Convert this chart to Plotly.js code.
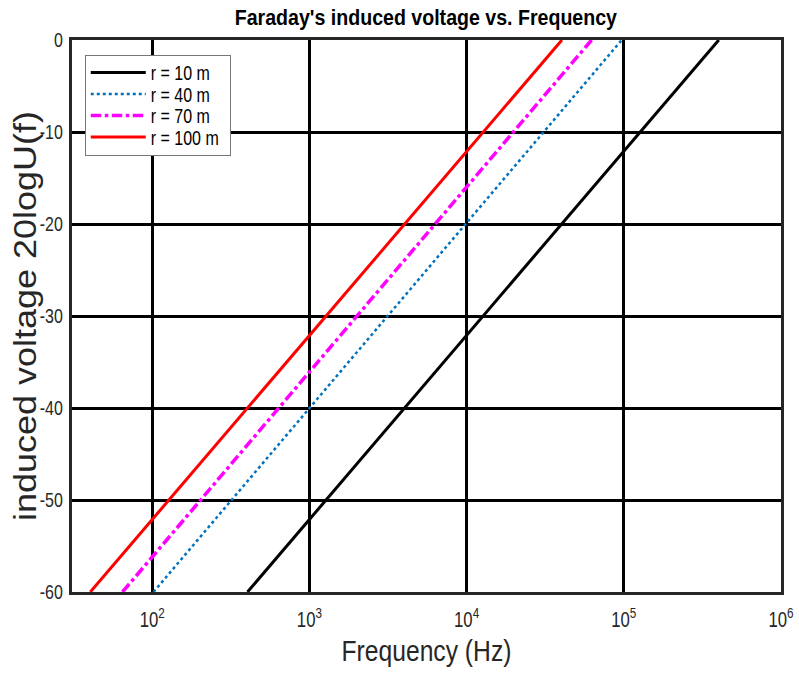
<!DOCTYPE html>
<html>
<head>
<meta charset="utf-8">
<script src="https://cdn.plot.ly/plotly-3.0.1.min.js"></script>
<style>
  html, body { margin: 0; padding: 0; background: #fff; }
  #chart { width: 799px; height: 677px; }
</style>
</head>
<body>
<div id="chart"></div>
<script>
// Line end points (frequency in Hz, level in dB) for each distance r
const freqR10 = [404, 402000];
const freqR40 = [102, 97000];
const freqR70 = [64.7, 62400];
const freqR100 = [40.4, 40400];
const voltR10 = [-60, 0];
const voltR40 = [-60, 0];
const voltR70 = [-60, 0];
const voltR100 = [-60, 0];
const seriesNames = ['r = 10 m', 'r = 40 m', 'r = 70 m', 'r = 100 m'];

const xTickVals = [100, 1000, 10000, 100000, 1000000];
const xTickText = ['10<sup>2</sup>', '10<sup>3</sup>', '10<sup>4</sup>', '10<sup>5</sup>', '10<sup>6</sup>'];
const yTickVals = [0, -10, -20, -30, -40, -50, -60];
const yTickText = ['0', '-10', '-20', '-30', '-40', '-50', '-60'];

const sans = '"Liberation Sans", Arial, sans-serif';

const traces = [
  { x: freqR10, y: voltR10, name: seriesNames[0], mode: 'lines',
    line: { color: '#000000', width: 3, dash: 'solid' } },
  { x: freqR40, y: voltR40, name: seriesNames[1], mode: 'lines',
    line: { color: '#0072BD', width: 2.5, dash: 'dot' } },
  { x: freqR70, y: voltR70, name: seriesNames[2], mode: 'lines',
    line: { color: '#FF00FF', width: 3.5, dash: 'dashdot' } },
  { x: freqR100, y: voltR100, name: seriesNames[3], mode: 'lines',
    line: { color: '#FF0000', width: 3, dash: 'solid' } }
];

const layout = {
  width: 799, height: 677,
  margin: { l: 72, r: 18, t: 40, b: 85 },
  paper_bgcolor: '#ffffff', plot_bgcolor: '#ffffff',
  showlegend: true,
  title: {
    text: "<b>Faraday's induced voltage vs. Frequency</b>",
    font: { family: sans, size: 22, color: '#000' },
    x: 0.533, xanchor: 'center', y: 0.975, yanchor: 'middle'
  },
  xaxis: {
    type: 'log',
    range: [1.49, 6],
    tickvals: xTickVals, ticktext: xTickText,
    showgrid: true, gridcolor: '#000', gridwidth: 3,
    showline: true, linecolor: '#262626', linewidth: 3, mirror: true,
    ticks: '', zeroline: false, ticklabelstandoff: 6,
    tickfont: { family: sans, size: 22, color: '#262626' },
    title: { text: 'Frequency (Hz)', font: { family: sans, size: 29, color: '#262626' }, standoff: 10 }
  },
  yaxis: {
    range: [-60, 0],
    tickvals: yTickVals, ticktext: yTickText,
    showgrid: true, gridcolor: '#000', gridwidth: 3,
    showline: true, linecolor: '#262626', linewidth: 3, mirror: true,
    ticks: '', zeroline: false, ticklabelstandoff: 2,
    tickfont: { family: sans, size: 21, color: '#262626' },
    title: { text: 'induced voltage 20logU(f)', font: { family: sans, size: 36, color: '#262626' }, standoff: 4 }
  },
  legend: {
    x: 0.018, y: 0.973, xanchor: 'left', yanchor: 'top',
    bgcolor: '#ffffff', bordercolor: '#777', borderwidth: 1,
    font: { family: sans, size: 20, color: '#000' },
    itemwidth: 55, tracegroupgap: 0
  }
};

// Horizontal labels are set in a condensed face: squeeze each text run
function squeeze(root, selector, factor) {
  root.querySelectorAll(selector).forEach(function (el) {
    const len = el.getComputedTextLength();
    if (len > 0) {
      el.setAttribute('textLength', (len * factor).toFixed(2));
      el.setAttribute('lengthAdjust', 'spacingAndGlyphs');
    }
  });
}

// Condense the rotated y title across its glyph height and centre it at a given x
function condenseYTitle(gd, factor, centerX) {
  const el = gd.querySelector('.ytitle');
  if (!el) return;
  const cx = parseFloat(el.getAttribute('x')) || 0;
  const base = el.getAttribute('transform') || '';
  el.setAttribute('transform', 'translate(' + ((1 - factor) * cx) + ',0) scale(' + factor + ',1) ' + base);
  const box = el.getBoundingClientRect();
  const host = gd.getBoundingClientRect();
  const dx = centerX - ((box.left + box.right) / 2 - host.left);
  el.setAttribute('transform', 'translate(' + dx + ',0) ' + el.getAttribute('transform'));
}

// Tighten the legend rows and box
function tightenLegend(gd, firstRow, step, boxW, boxH) {
  const rows = gd.querySelectorAll('.legend .traces');
  rows.forEach(function (g, i) {
    const m = /translate\(([-\d.]+)[ ,]+([-\d.]+)\)/.exec(g.getAttribute('transform') || '');
    const tx = m ? parseFloat(m[1]) : 0;
    g.setAttribute('transform', 'translate(' + tx + ',' + (firstRow + i * step) + ')');
  });
  const bg = gd.querySelector('.legend .bg');
  if (bg) { bg.setAttribute('height', boxH); bg.setAttribute('width', boxW); }
}

Plotly.newPlot('chart', traces, layout, { displayModeBar: false, staticPlot: true }).then(function (gd) {
  squeeze(gd, '.gtitle', 0.89);
  squeeze(gd, '.xtitle', 0.85);
  squeeze(gd, '.xtick text', 0.76);
  squeeze(gd, '.ytick text', 0.76);
  squeeze(gd, '.legendtext', 0.8);
  condenseYTitle(gd, 0.85, 25);
  tightenLegend(gd, 17.5, 21.5, 145, 100);
});
</script>
</body>
</html>
